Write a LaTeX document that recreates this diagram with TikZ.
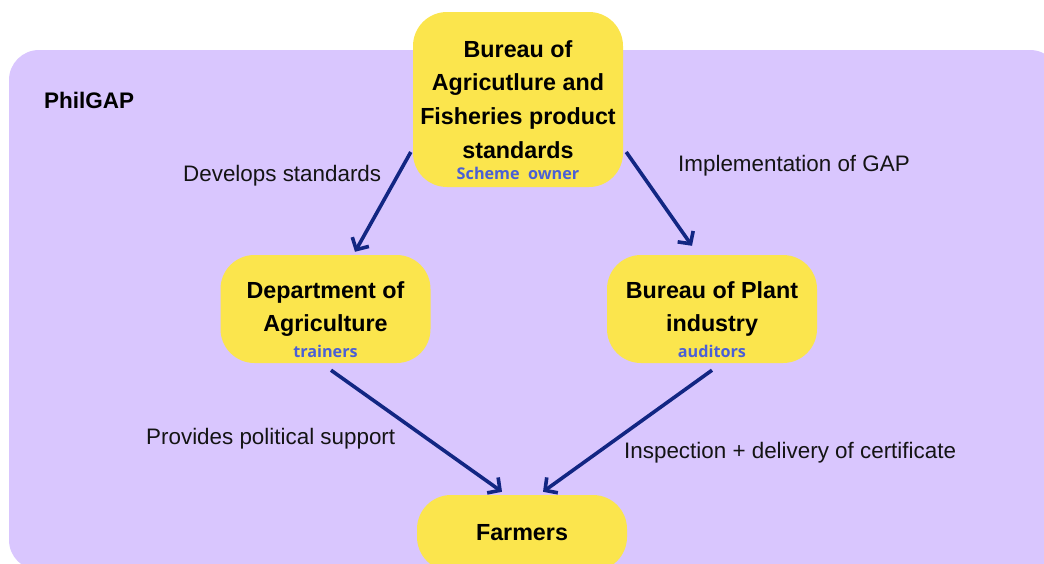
\documentclass[tikz,border=0pt]{standalone}
\usepackage{fontspec}
\setmainfont{Liberation Sans}
\newfontfamily\rolefont{Open Sans}
\usetikzlibrary{arrows.meta,calc}
\definecolor{panel}{HTML}{D9C6FE}
\definecolor{boxfill}{HTML}{FBE54D}
\definecolor{navy}{HTML}{122683}
\definecolor{rolecol}{HTML}{4A5FD6}
\tikzset{
  actor/.style={fill=boxfill, rounded corners=34pt, minimum width=210pt,
    align=center, inner sep=0pt,
    font=\fontsize{23.3pt}{33.7pt}\selectfont\bfseries},
  role/.style={text=rolecol, inner sep=0pt, font=\rolefont\fontsize{16.2pt}{18pt}\selectfont\bfseries},
  flowlabel/.style={anchor=west, inner sep=0pt, text=black!92,
    font=\fontsize{22.4pt}{26pt}\selectfont},
  flow/.style={draw=navy, line width=3.6pt,
    -{Straight Barb[length=9pt,width=19pt,line width=3.6pt]}}
}
\begin{document}
\begin{tikzpicture}[x=1pt,y=-1pt]
\useasboundingbox (0,0) rectangle (1044,563);
% background panel
\fill[panel, rounded corners=30pt] (9,50) rectangle (1060,570);
\node[anchor=west, inner sep=0pt, font=\fontsize{22.5pt}{26pt}\selectfont\bfseries] (title) at (44,100) {PhilGAP};

% actors
\node[actor, minimum height=175pt] (owner) at (518,99.5) {Bureau of\\Agricutlure and\\Fisheries product\\standards};
\node[role] (ownerrole) at (518,173) {Scheme\ \ owner};

\node[actor, minimum height=108pt] (dept) at (325.5,309) {Department of\\Agriculture};
\node[role] (deptrole) at (325.5,351) {trainers};

\node[actor, minimum height=108pt] (bpi) at (712,309) {Bureau of Plant\\industry};
\node[role] (bpirole) at (712,351) {auditors};

\node[actor, minimum height=76pt] (farmers) at (522,533) {Farmers};

% connectors
\draw[flow] ($(owner.west)+(-2,52.5)$) -- ($(dept.north)+(29.5,-3)$);
\draw[flow] ($(owner.east)+(3,52.5)$) -- ($(bpi.north)+(-20,-9)$);
\draw[flow] ($(dept.south)+(5.5,7)$) -- ($(farmers.north)+(-20,-3)$);
\draw[flow] ($(bpi.south)+(0,7)$) -- ($(farmers.north)+(21,-3)$);

% connector labels
\node[flowlabel] (l1) at (183,176) {Develops standards};
\node[flowlabel] (l2) at (678,166) {Implementation of GAP};
\node[flowlabel] (l3) at (146,439) {Provides political support};
\node[flowlabel] (l4) at (624,453) {Inspection + delivery of certificate};
\end{tikzpicture}
\end{document}
